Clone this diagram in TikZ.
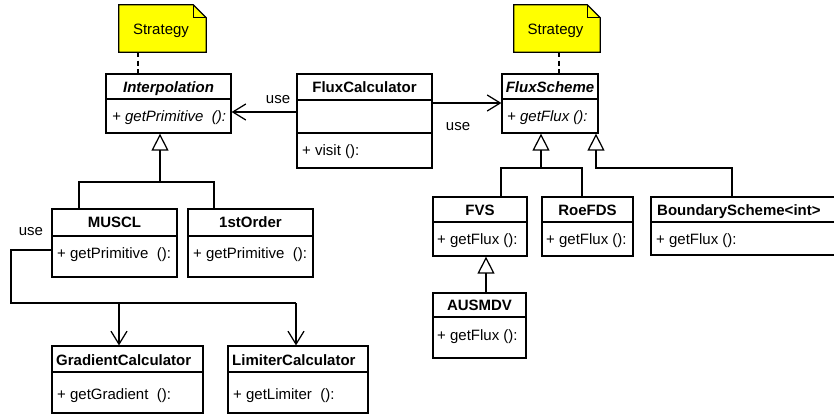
\documentclass[tikz,border=0pt]{standalone}
\usepackage{fontspec}
\setmainfont{Liberation Sans}
\usetikzlibrary{arrows.meta}
\newcommand{\umlbox}[5]{%
  \pgfmathsetmacro{\umlcx}{(#2+#4)/2}%
  \pgfmathsetmacro{\umlcy}{(#3+#5)/2}%
  \pgfmathsetmacro{\umlw}{#4-#2}%
  \pgfmathsetmacro{\umlh}{#5-#3}%
  \node[clsbox, minimum width=\umlw pt, minimum height=\umlh pt] (#1) at (\umlcx,\umlcy) {};}
\tikzset{
  ln/.style={line width=1.25pt},
  clsbox/.style={draw, line width=1.25pt, rectangle, inner sep=0pt, fill=white},
  ttl/.style={font=\bfseries\fontsize{15}{17}\selectfont, inner sep=0pt, anchor=base},
  ttll/.style={font=\bfseries\fontsize{15}{17}\selectfont, inner sep=0pt, anchor=base west},
  mth/.style={font=\fontsize{15}{17}\selectfont, inner sep=0pt, anchor=base west},
  lbl/.style={font=\fontsize{15}{17}\selectfont, inner sep=0pt, anchor=base},
  usearrow/.style={line width=1.25pt, -{Straight Barb[length=13pt,width=16pt]}},
  inh/.style={line width=1.25pt, -{Triangle[open,length=17pt,width=17pt]}},
  notedash/.style={line width=1.25pt, dash pattern=on 5pt off 3.5pt},
  noteshape/.style={fill={rgb,255:red,255;green,255;blue,0}, draw, line width=1.25pt, line join=miter}
}
\begin{document}
\begin{tikzpicture}[x=1pt,y=-1pt]
\useasboundingbox (0,0) rectangle (834,415);
\clip (0,0) rectangle (834,415);

% ---------- notes ----------
\node[minimum width=87pt, minimum height=47pt, inner sep=0pt] (noteL) at (162.5,28.5) {};
\draw[noteshape] (noteL.north west) -- ([xshift=-13pt]noteL.north east) -- ([yshift=-13pt]noteL.north east) -- (noteL.south east) -- (noteL.south west) -- cycle;
\draw[line width=0.8pt] ([xshift=-13pt]noteL.north east) -- ([xshift=-13pt,yshift=-13pt]noteL.north east) -- ([yshift=-13pt]noteL.north east);
\node[lbl] (noteLt) at (161,34.5) {Strategy};

\node[minimum width=86pt, minimum height=47pt, inner sep=0pt] (noteR) at (557,28.5) {};
\draw[noteshape] (noteR.north west) -- ([xshift=-13pt]noteR.north east) -- ([yshift=-13pt]noteR.north east) -- (noteR.south east) -- (noteR.south west) -- cycle;
\draw[line width=0.8pt] ([xshift=-13pt]noteR.north east) -- ([xshift=-13pt,yshift=-13pt]noteR.north east) -- ([yshift=-13pt]noteR.north east);
\node[lbl] (noteRt) at (555.5,34.5) {Strategy};

% ---------- class boxes ----------
\umlbox{interp}{106}{74}{231}{133}
\umlbox{fc}{297}{74}{432}{168}
\umlbox{fs}{502}{74}{598}{133}
\umlbox{muscl}{52}{209}{177}{277}
\umlbox{first}{188}{209}{313}{277}
\umlbox{gc}{52}{346}{203}{413}
\umlbox{lc}{228}{346}{368}{413}
\umlbox{fvs}{433}{197}{527}{256}
\umlbox{roe}{542}{197}{633}{256}
\umlbox{bs}{651}{197}{850}{255}
\umlbox{aus}{433}{293}{526}{358}

% dividers
\draw[ln] (interp.west |- 0,99) -- (interp.east |- 0,99);
\draw[ln] (fc.west |- 0,100) -- (fc.east |- 0,100);
\draw[ln] (fc.west |- 0,133) -- (fc.east |- 0,133);
\draw[ln] (fs.west |- 0,99) -- (fs.east |- 0,99);
\draw[ln] (muscl.west |- 0,236) -- (muscl.east |- 0,236);
\draw[ln] (first.west |- 0,236) -- (first.east |- 0,236);
\draw[ln] (gc.west |- 0,372) -- (gc.east |- 0,372);
\draw[ln] (lc.west |- 0,372) -- (lc.east |- 0,372);
\draw[ln] (fvs.west |- 0,222) -- (fvs.east |- 0,222);
\draw[ln] (roe.west |- 0,222) -- (roe.east |- 0,222);
\draw[ln] (bs.west |- 0,222) -- (bs.east |- 0,222);
\draw[ln] (aus.west |- 0,317) -- (aus.east |- 0,317);

% titles
\node[ttl] (interpT) at (interp.north |- 0,92) {\itshape Interpolation};
\node[ttl] (fcT) at (fc.north |- 0,92) {FluxCalculator};
\node[ttl] (fsT) at (fs.north |- 0,92) {\itshape FluxScheme};
\node[ttl] (musclT) at (muscl.north |- 0,227) {MUSCL};
\node[ttl] (firstT) at (first.north |- 0,227) {1stOrder};
\node[ttll] (gcT) at (56,365) {GradientCalculator};
\node[ttll] (lcT) at (232,365) {LimiterCalculator};
\node[ttl] (fvsT) at (fvs.north |- 0,215) {FVS};
\node[ttl] (roeT) at (roe.north |- 0,215) {RoeFDS};
\node[ttll] (bsT) at (657,215) {BoundaryScheme<int>};
\node[ttl] (ausT) at (aus.north |- 0,310) {AUSMDV};

% methods
\node[mth] (interpM) at (112,121) {\itshape + getPrimitive~~():};
\node[mth] (fcM) at (302,155.5) {+ visit ():};
\node[mth] (fsM) at (507,121) {\itshape + getFlux ():};
\node[mth] (musclM) at (57,258) {+ getPrimitive~~():};
\node[mth] (firstM) at (193,258) {+ getPrimitive~~():};
\node[mth] (gcM) at (57,399) {+ getGradient~~():};
\node[mth] (lcM) at (233,399) {+ getLimiter~~():};
\node[mth] (fvsM) at (437,244) {+ getFlux ():};
\node[mth] (roeM) at (546,244) {+ getFlux ():};
\node[mth] (bsM) at (656,244) {+ getFlux ():};
\node[mth] (ausM) at (437,340) {+ getFlux ():};

% ---------- note links ----------
\draw[notedash] (noteL.south -| 138,0) -- (interp.north -| 138,0);
\draw[notedash] (noteR.south -| 559,0) -- (fs.north -| 559,0);

% ---------- use associations ----------
\draw[usearrow] (fc.west |- 0,112) -- (interp.east |- 0,112);
\node[lbl] (use1) at (278,103) {use};
\draw[usearrow] (fc.east |- 0,103) -- (fs.west |- 0,103);
\node[lbl] (use2) at (458,130) {use};

\coordinate (ucorner) at (11,303);
\coordinate (ugc) at (119,303);
\coordinate (ulc) at (296,303);
\draw[ln] (muscl.west |- 0,250) -| (ucorner) -- (ulc);
\draw[usearrow] (ugc) -- (gc.north -| ugc);
\draw[usearrow] (ulc) -- (lc.north -| ulc);
\node[lbl] (use3) at (31,235) {use};

% ---------- generalisations ----------
\coordinate (j1) at (160,182);
\draw[inh] (muscl.north -| 79,0) |- (j1) -- (interp.south -| j1);
\draw[ln] (first.north -| 214,0) |- (j1);

\coordinate (j2) at (541,168);
\draw[inh] (fvs.north -| 501,0) |- (j2) -- (fs.south -| j2);
\draw[ln] (roe.north -| 582,0) |- (j2);

\coordinate (j3) at (596,168);
\draw[inh] (bs.north -| 732,0) |- (j3) -- (fs.south -| j3);

\draw[inh] (aus.north -| 486,0) -- (fvs.south -| 486,0);
\end{tikzpicture}
\end{document}
